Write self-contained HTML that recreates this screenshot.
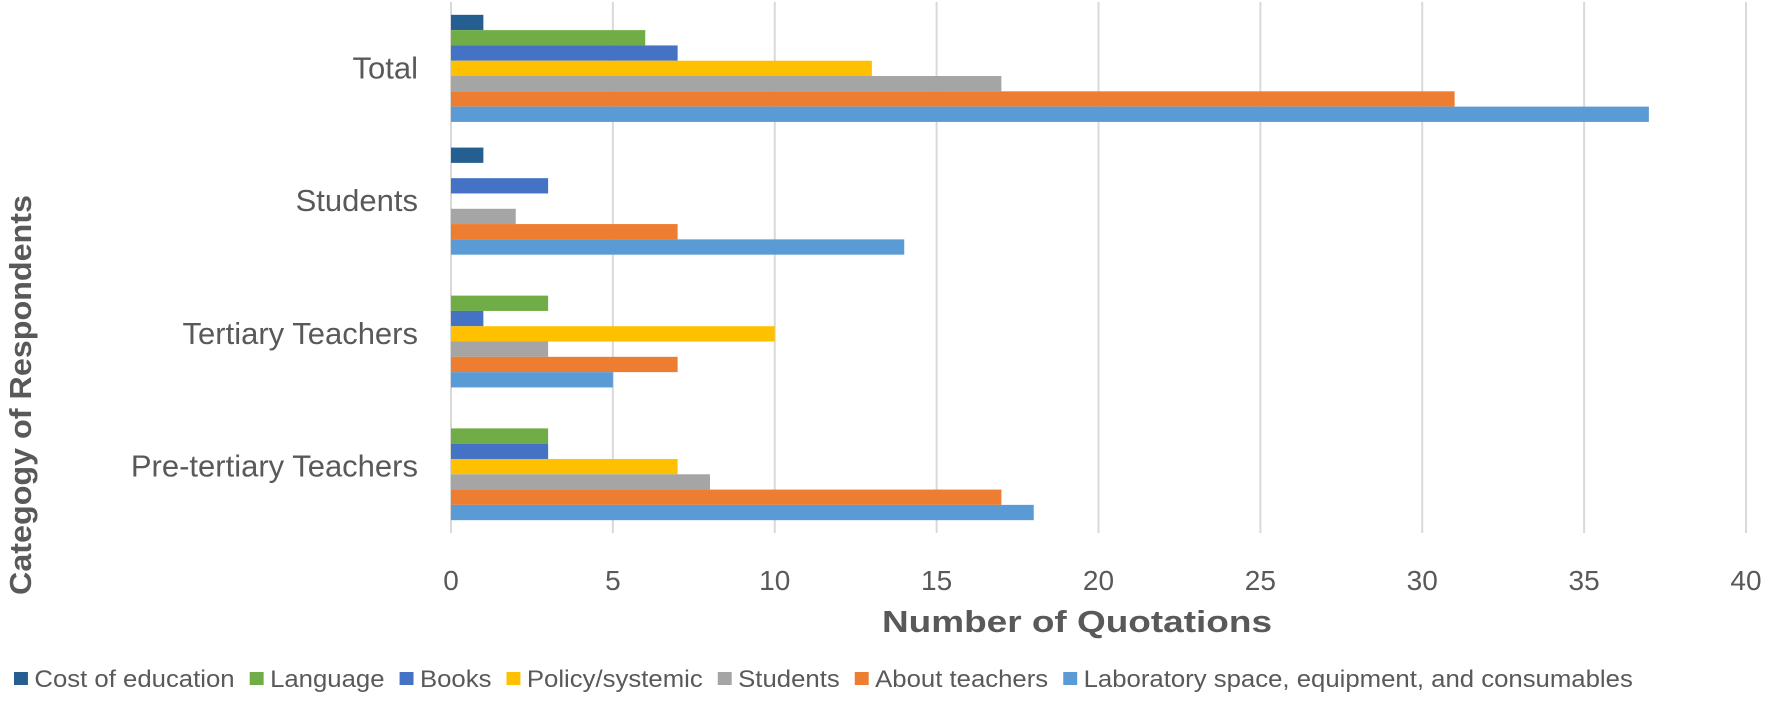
<!DOCTYPE html>
<html><head><meta charset="utf-8"><style>
body{margin:0;background:#fff;}
svg text{font-family:"Liberation Sans",sans-serif;}
</style></head><body>
<svg id="chart" width="1772" height="706" xmlns="http://www.w3.org/2000/svg">
<g id="grid"></g>
<g id="bars"></g>
<g id="labels"></g>
<text x="1077" y="632" text-anchor="middle" font-size="31" font-weight="bold" fill="#595959" textLength="390" lengthAdjust="spacingAndGlyphs">Number of Quotations</text>
<text transform="translate(31,395) rotate(-90)" text-anchor="middle" font-size="31" font-weight="bold" fill="#595959" textLength="400" lengthAdjust="spacingAndGlyphs">Categogy of Respondents</text>
<g id="legend"></g>
</svg>
<script>
const categories = ["Total","Students","Tertiary Teachers","Pre-tertiary Teachers"];
const seriesNames = ["Cost of education","Language","Books","Policy/systemic","Students","About teachers","Laboratory space, equipment, and consumables"];
const costOfEducation = [1,1,0,0];
const language = [6,0,3,3];
const books = [7,3,1,3];
const policySystemic = [13,0,10,7];
const studentsSeries = [17,2,3,8];
const aboutTeachers = [31,7,7,17];
const laboratory = [37,14,5,18];
const xTicks = [0,5,10,15,20,25,30,35,40];
const series = [costOfEducation,language,books,policySystemic,studentsSeries,aboutTeachers,laboratory];
const colors = ["#255e91","#70ad47","#4472c4","#ffc000","#a5a5a5","#ed7d31","#5b9bd5"];
const NS="http://www.w3.org/2000/svg";
const X0=451,X1=1746,XMAX=40,TOP=2,BOTTOM=533;
function xs(v){return X0+(X1-X0)*v/XMAX;}
const band=(BOTTOM-TOP)/categories.length;
const barH=15.3;
const inner=barH*series.length;
function bandTop(i){return TOP+band*i+(band-inner)/2;}
function mk(tag,attrs,parent){const e=document.createElementNS(NS,tag);for(const k in attrs)e.setAttribute(k,attrs[k]);parent.appendChild(e);return e;}
const grid=document.getElementById('grid'),barsG=document.getElementById('bars'),labels=document.getElementById('labels'),legend=document.getElementById('legend');
xTicks.forEach(t=>{
  const l=mk('line',{x1:xs(t),x2:xs(t),y1:TOP,y2:BOTTOM,stroke:'#d9d9d9','stroke-width':2},grid);
  
  
  const tx=mk('text',{x:xs(t),y:590,'text-anchor':'middle','font-size':28,fill:'#595959'},labels);
  tx.textContent=t;
  
  
});
categories.forEach((c,i)=>{
  const tx=mk('text',{x:418,y:TOP+band*i+band/2+10,'text-anchor':'end','font-size':31,fill:'#595959'},labels);
  tx.textContent=c;
  
  
  series.forEach((s,j)=>{
    if(s[i]<=0)return;
    const r=mk('rect',{x:xs(0),y:bandTop(i)+j*barH,width:xs(s[i])-xs(0),height:barH,fill:colors[j]},barsG);
    
    
  });
});
let lx=14;
seriesNames.forEach((n,j)=>{
  const g=mk('g',{},legend);
  
  
  mk('rect',{x:lx,y:672,width:13,height:13,fill:colors[j]},g);
  const t=mk('text',{x:lx+19,y:687,'font-size':24,fill:'#595959'},g);
  t.textContent=n;
  lx+=19+t.getComputedTextLength()+14;
});
const sc=(1633-14)/(lx-14-14);
legend.setAttribute('transform','translate(14,0) scale('+sc+',1) translate(-14,0)');
</script>
</body></html>
